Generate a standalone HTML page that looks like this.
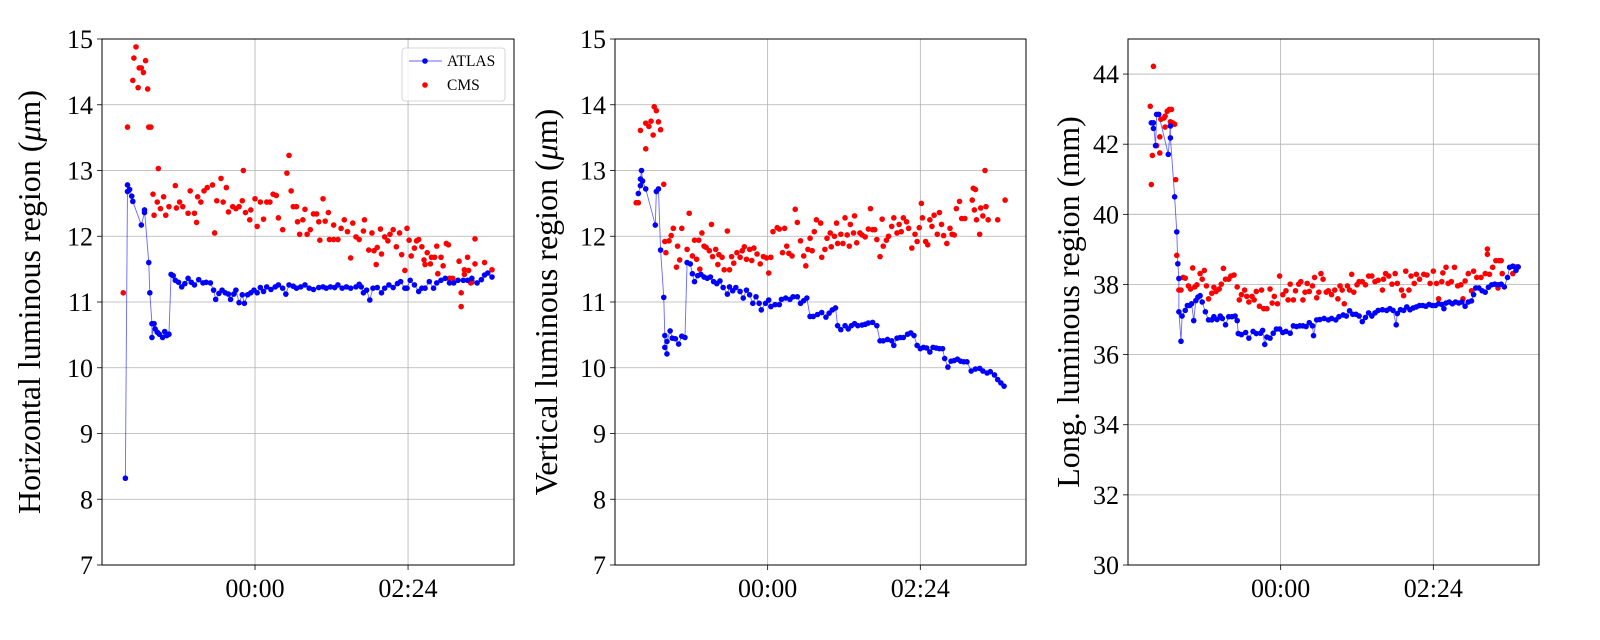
<!DOCTYPE html>
<html><head><meta charset="utf-8">
<style>
body{margin:0;background:#fff;}
svg{display:block;font-family:"Liberation Serif","DejaVu Serif",serif;}
</style></head>
<body>
<svg id="chart" width="1600" height="640" viewBox="0 0 1600 640" xmlns="http://www.w3.org/2000/svg"></svg>
<script>
// ---- data (time in minutes relative to 00:00, value) ----
const xTickLabels = ["00:00","02:24"];
const xTickValues = [0,144];
const p1Ticks = [7,8,9,10,11,12,13,14,15];
const p2Ticks = [7,8,9,10,11,12,13,14,15];
const p3Ticks = [30,32,34,36,38,40,42,44];

const atlasHT = [-122,-120,-120,-118,-116,-115,-107,-104,-104,-100,-99,-97,-97,-95,-94,-92,-90,-87,-85,-83,-81,-79,-77,-75,-72,-69,-66,-63,-60,-57,-53,-49,-46,-42,-39,-37,-34,-31,-28,-25,-23,-20,-18,-15,-12,-10,-7,-4,-1,2,5,8,11,15,19,22,26,29,32,36,39,43,47,51,55,60,64,67,71,75,78,82,86,90,95,98,100,102,105,108,111,115,119,122,126,130,134,137,141,143,146,150,154,157,160,164,168,171,175,179,183,187,191,196,200,204,209,213,216,219,223];
const atlasHV = [8.32,12.78,12.68,12.71,12.61,12.53,12.17,12.36,12.4,11.6,11.14,10.67,10.46,10.67,10.59,10.54,10.51,10.46,10.55,10.49,10.51,11.42,11.4,11.33,11.3,11.23,11.28,11.36,11.3,11.26,11.34,11.29,11.3,11.29,11.18,11.04,11.13,11.18,11.14,11.12,11.04,11.12,11.18,10.99,11.11,10.98,11.11,11.14,11.18,11.14,11.22,11.16,11.23,11.19,11.23,11.26,11.21,11.12,11.26,11.24,11.21,11.23,11.26,11.21,11.19,11.22,11.23,11.21,11.23,11.22,11.26,11.21,11.23,11.21,11.23,11.27,11.23,11.14,11.18,11.03,11.21,11.22,11.14,11.21,11.26,11.22,11.28,11.31,11.21,11.21,11.33,11.26,11.16,11.21,11.21,11.31,11.21,11.29,11.33,11.36,11.29,11.29,11.33,11.33,11.33,11.36,11.29,11.34,11.41,11.44,11.38];
const cmsHT = [-124,-120,-115,-114,-112,-110,-109,-107,-105,-103,-101,-100,-98,-96,-95,-92,-91,-89,-86,-84,-81,-75,-74,-71,-68,-63,-61,-57,-55,-54,-51,-48,-45,-40,-38,-36,-32,-30,-27,-25,-21,-18,-15,-12,-11,-9,-5,-4,0,2,5,8,11,14,17,20,22,26,30,32,34,36,39,40,42,45,47,49,52,55,58,60,61,64,66,69,70,74,74,78,81,84,87,90,92,95,98,102,103,107,110,112,114,115,118,119,122,125,127,130,133,136,138,141,143,145,147,150,152,154,157,159,160,162,165,166,169,171,172,175,177,180,182,183,186,192,194,194,197,197,200,201,203,204,207,207,216,223];
const cmsHV = [11.14,13.66,14.37,14.71,14.88,14.26,14.56,14.56,14.49,14.67,14.24,13.66,13.66,12.64,12.32,12.52,13.03,12.42,12.6,12.32,12.45,12.77,12.43,12.52,12.45,12.35,12.69,12.35,12.21,12.6,12.52,12.69,12.74,12.78,12.05,12.54,12.88,12.52,12.74,12.37,12.45,12.42,12.45,12.54,13.0,12.36,12.25,12.4,12.57,12.15,12.52,12.26,12.52,12.52,12.64,12.62,12.28,12.1,12.96,13.23,12.69,12.45,12.45,12.22,12.03,12.25,12.41,12.03,12.1,12.34,12.34,12.22,11.94,12.57,12.23,12.36,11.95,11.95,12.17,11.95,12.12,12.25,12.07,11.67,12.2,11.99,11.95,12.08,12.25,11.79,12.05,11.78,11.57,11.83,12.11,11.73,11.99,11.93,12.03,12.1,11.84,12.05,11.72,11.48,12.12,11.94,11.7,11.82,11.93,11.95,11.84,11.64,11.57,11.75,11.58,11.68,11.68,11.85,11.43,11.68,11.55,11.89,11.87,11.36,11.36,11.62,10.93,11.14,11.42,11.49,11.68,11.48,11.29,11.3,11.96,11.58,11.6,11.49];

const atlasVT = [-122,-120,-120,-119,-118,-115,-106,-105,-103,-101,-98,-97,-97,-95,-95,-92,-90,-87,-84,-81,-78,-76,-73,-71,-69,-66,-63,-60,-57,-54,-51,-48,-45,-42,-38,-36,-33,-30,-26,-23,-20,-17,-14,-11,-8,-6,-2,1,3,7,11,13,17,21,24,28,31,34,37,40,43,47,51,55,58,61,64,66,69,73,76,79,82,85,89,92,95,99,103,106,109,113,117,119,122,125,128,132,135,138,141,144,147,150,153,156,159,162,165,167,170,173,176,179,182,185,188,192,196,200,203,207,210,214,217,220,223];
const atlasVV = [12.65,12.77,12.87,13.0,12.84,12.72,12.17,12.68,12.72,11.79,11.07,10.49,10.31,10.21,10.4,10.56,10.45,10.44,10.36,10.48,10.46,11.6,11.58,11.43,11.31,11.4,11.42,11.38,11.36,11.38,11.31,11.28,11.32,11.22,11.12,11.23,11.17,11.22,11.16,11.06,11.18,11.11,10.98,11.08,10.98,10.88,10.98,11.03,10.93,10.96,10.96,11.04,11.06,11.04,11.08,11.08,10.98,11.02,11.06,10.78,10.78,10.81,10.84,10.77,10.83,10.88,10.91,10.64,10.58,10.64,10.59,10.64,10.67,10.64,10.65,10.66,10.68,10.69,10.64,10.41,10.41,10.43,10.41,10.34,10.45,10.46,10.46,10.51,10.53,10.49,10.34,10.29,10.31,10.3,10.24,10.31,10.3,10.29,10.29,10.14,10.01,10.1,10.11,10.13,10.1,10.09,10.09,9.95,9.98,9.99,9.95,9.92,9.94,9.89,9.82,9.77,9.72];
const cmsVT = [-124,-122,-120,-115,-115,-112,-110,-108,-107,-105,-103,-101,-98,-97,-96,-93,-91,-89,-86,-85,-83,-81,-76,-74,-71,-69,-67,-65,-64,-62,-60,-58,-55,-53,-52,-49,-47,-46,-43,-41,-38,-36,-34,-32,-29,-26,-24,-22,-20,-17,-15,-13,-10,-7,-4,-1,1,3,5,9,11,14,16,18,20,23,26,28,31,34,36,38,40,42,44,46,50,51,54,56,59,60,63,65,66,69,71,73,75,77,78,81,82,84,87,89,92,95,97,99,101,103,106,108,109,112,114,117,119,122,124,126,128,131,133,136,139,141,143,145,146,149,151,153,155,157,160,162,164,166,169,172,174,176,178,181,183,186,193,194,195,196,197,200,201,203,205,206,208,217,224];
const cmsVV = [12.51,12.51,13.61,13.33,13.72,13.67,13.75,13.54,13.97,13.91,13.74,13.62,12.79,11.92,11.75,11.93,12.01,12.12,11.53,11.85,11.64,12.12,11.8,12.35,11.7,11.94,11.65,11.94,11.5,12.05,11.85,11.83,11.78,12.18,11.69,11.8,11.57,11.72,11.68,11.49,12.08,11.49,11.69,11.59,11.75,11.68,11.78,11.84,11.65,11.8,11.63,11.82,11.73,11.58,11.69,11.67,11.44,11.68,12.07,12.13,12.11,11.75,12.12,11.85,11.74,11.7,12.41,12.21,11.93,11.7,11.55,11.8,11.97,11.78,12.07,12.25,12.2,11.68,11.8,11.97,12.05,11.84,12.0,12.2,11.89,12.03,11.89,12.28,12.02,11.85,12.18,12.05,12.31,11.9,12.05,12.02,11.99,12.11,12.42,12.1,12.1,11.95,11.69,12.26,11.85,11.94,12.0,12.15,12.28,12.05,12.18,12.07,12.28,12.22,12.12,11.82,12.03,11.92,12.13,12.5,12.28,11.92,11.87,12.25,12.15,12.32,12.03,12.36,12.18,12.01,11.89,12.12,12.03,12.02,12.42,12.53,12.27,12.27,12.55,12.73,12.4,12.71,12.25,12.03,12.43,12.31,13.0,12.45,12.25,12.25,12.55];

const atlasLT = [-122,-120,-120,-118,-117,-115,-106,-104,-104,-100,-98,-97,-96,-96,-94,-93,-90,-88,-86,-84,-82,-80,-78,-76,-74,-71,-68,-65,-63,-60,-57,-55,-52,-49,-46,-43,-41,-40,-37,-33,-30,-26,-23,-19,-17,-15,-13,-10,-7,-4,-1,2,5,9,12,15,18,21,24,27,30,31,34,37,41,45,48,52,55,59,62,65,68,71,74,77,80,83,86,89,92,96,100,103,106,109,110,113,116,119,122,125,128,131,134,137,140,143,146,149,152,154,156,159,162,165,168,171,174,177,180,182,184,187,190,193,196,199,202,205,208,211,214,216,219,222,224];
const atlasLV = [42.61,42.45,42.61,41.96,42.85,42.85,41.71,42.52,42.18,40.5,39.5,38.59,38.17,37.22,36.38,37.1,37.26,37.4,37.4,37.45,36.97,37.54,37.64,37.68,37.5,37.22,36.99,36.99,37.08,37.0,37.1,37.03,36.85,37.08,37.08,37.1,36.97,36.6,36.57,36.63,36.47,36.66,36.6,36.61,36.69,36.29,36.5,36.47,36.61,36.73,36.73,36.63,36.66,36.61,36.82,36.8,36.82,36.82,36.8,36.91,36.82,36.54,36.99,37.0,37.03,36.99,37.03,36.99,37.08,37.13,37.1,37.25,37.15,37.15,37.1,36.94,37.06,37.19,37.1,37.19,37.26,37.28,37.26,37.31,37.26,36.85,37.17,37.28,37.26,37.36,37.28,37.33,37.36,37.4,37.4,37.38,37.43,37.4,37.4,37.45,37.43,37.31,37.47,37.5,37.45,37.5,37.47,37.5,37.38,37.5,37.53,37.71,37.9,37.9,37.82,37.78,37.92,37.99,38.01,37.99,38.01,37.93,38.2,38.49,38.52,38.4,38.5];
const cmsLT = [-123,-122,-121,-120,-117,-114,-114,-113,-110,-109,-109,-107,-105,-103,-104,-102,-100,-99,-98,-96,-94,-92,-90,-87,-85,-83,-81,-79,-76,-74,-72,-70,-68,-65,-63,-61,-58,-56,-54,-52,-49,-47,-44,-41,-39,-37,-34,-32,-30,-27,-25,-23,-20,-18,-16,-13,-10,-8,-6,-3,-1,2,5,7,9,12,14,17,19,21,23,25,27,30,32,34,36,38,40,43,45,48,51,54,56,58,60,63,65,67,69,72,74,77,80,83,86,89,92,96,97,99,102,105,108,110,114,116,118,121,123,126,128,131,135,138,141,144,147,149,152,153,156,158,161,164,167,170,172,174,177,180,182,185,189,193,195,195,197,200,203,206,205,208,209,219,222,224];
const cmsLV = [43.08,40.85,41.68,44.22,41.96,41.75,42.21,42.71,42.75,42.8,42.49,42.94,42.99,42.99,42.64,42.61,42.57,40.99,38.83,37.84,37.84,38.2,38.18,37.96,37.87,38.47,37.93,37.99,38.31,38.15,38.4,37.96,37.59,37.75,37.92,37.8,37.87,38.01,38.46,38.15,38.15,38.24,38.27,37.93,37.56,37.71,37.84,37.66,37.5,37.66,37.56,37.8,37.38,37.84,37.31,37.31,37.87,37.47,37.66,37.45,38.24,37.71,37.82,37.56,38.01,37.56,37.82,38.01,38.08,37.56,37.78,38.03,37.8,37.96,38.2,37.62,37.78,38.31,38.15,37.78,37.82,37.71,37.84,37.59,37.96,37.84,37.45,37.96,37.84,38.29,37.78,37.99,38.08,38.08,37.99,38.24,38.24,38.08,38.12,37.84,38.15,38.31,38.24,38.01,38.31,38.03,37.84,37.68,38.38,37.84,38.24,38.03,38.29,38.15,38.29,38.27,38.03,38.38,38.03,37.59,38.08,38.33,38.49,38.03,38.08,38.49,37.96,37.99,37.59,38.1,38.31,37.82,38.38,38.2,38.2,38.31,39.01,38.86,38.29,38.49,38.68,38.68,37.9,38.68,38.31,38.31,38.5,38.5];

const NS="http://www.w3.org/2000/svg";
const svg=document.getElementById('chart');
function mk(tag,attrs,parent){const e=document.createElementNS(NS,tag);for(const k in attrs)e.setAttribute(k,attrs[k]);(parent||svg).appendChild(e);return e;}
const T0=-144,T1=243.7;

function panel(name,L,R,top,bot,ymin,ymax,yticks,title,titleX,aT,aV,cT,cV,legend){
  const g=mk('g',{});
  
  
  const xs=t=>L+(t-T0)/(T1-T0)*(R-L);
  const ys=v=>bot-(v-ymin)/(ymax-ymin)*(bot-top);
  yticks.forEach(v=>{
    const l=mk('line',{x1:L,x2:R,y1:ys(v),y2:ys(v),stroke:'#b0b0b0','stroke-width':0.8},g);
    
    
    mk('line',{x1:L-5,x2:L,y1:ys(v),y2:ys(v),stroke:'#000','stroke-width':0.8},g);
    const t=mk('text',{x:L-9,y:ys(v)+9,'text-anchor':'end','font-size':26},g);
    t.textContent=v;
    
    
  });
  xTickValues.forEach((v,i)=>{
    const l=mk('line',{x1:xs(v),x2:xs(v),y1:top,y2:bot,stroke:'#b0b0b0','stroke-width':0.8},g);
    
    
    mk('line',{x1:xs(v),x2:xs(v),y1:bot,y2:bot+5,stroke:'#000','stroke-width':0.8},g);
    const t=mk('text',{x:xs(v),y:bot+32,'text-anchor':'middle','font-size':26},g);
    t.textContent=xTickLabels[i];
    
    
  });
  const cy=(top+bot)/2;
  const tt=mk('text',{x:titleX,y:cy,'text-anchor':'middle','font-size':32,transform:`rotate(-90 ${titleX} ${cy})`},g);
  tt.innerHTML=title;
  
  
  const pl=mk('polyline',{points:aT.map((t,i)=>xs(t)+','+ys(aV[i])).join(' '),fill:'none',stroke:'#0000ff','stroke-opacity':0.6,'stroke-width':0.9},g);
  
  
  cT.forEach((t,i)=>{
    const c=mk('circle',{cx:xs(t),cy:ys(cV[i]),r:2.8,fill:'#ff0000'},g);
    
    
  });
  aT.forEach((t,i)=>{
    const c=mk('circle',{cx:xs(t),cy:ys(aV[i]),r:2.8,fill:'#0000ff'},g);
    
    
  });
  const fr=mk('rect',{x:L,y:top,width:R-L,height:bot-top,fill:'none',stroke:'#000','stroke-width':1},g);
  
  
  if(legend){
    const lg=mk('g',{},g);
    
    
    mk('rect',{x:402,y:48,width:103,height:53,rx:3,fill:'#fff','fill-opacity':0.8,stroke:'#ccc','stroke-width':0.8},lg);
    mk('line',{x1:409,x2:442,y1:61,y2:61,stroke:'#0000ff','stroke-opacity':0.6,'stroke-width':0.9},lg);
    mk('circle',{cx:425,cy:61,r:2.8,fill:'#0000ff'},lg);
    const a=mk('text',{x:447,y:66,'font-size':15.5},lg);a.textContent='ATLAS';
    
    
    mk('circle',{cx:425,cy:85,r:2.8,fill:'#ff0000'},lg);
    const b=mk('text',{x:447,y:90,'font-size':15.5},lg);b.textContent='CMS';
    
    
  }
}
panel('horizontal-panel',102,514,39,565,7,15,p1Ticks,'Horizontal luminous region (<tspan font-style="italic">μ</tspan>m)',40,atlasHT,atlasHV,cmsHT,cmsHV,true);
panel('vertical-panel',615,1026,39,565,7,15,p2Ticks,'Vertical luminous region (<tspan font-style="italic">μ</tspan>m)',557,atlasVT,atlasVV,cmsVT,cmsVV,false);
panel('longitudinal-panel',1128,1539,39,565,30,45,p3Ticks,'Long. luminous region (mm)',1079,atlasLT,atlasLV,cmsLT,cmsLV,false);
</script>
</body></html>
